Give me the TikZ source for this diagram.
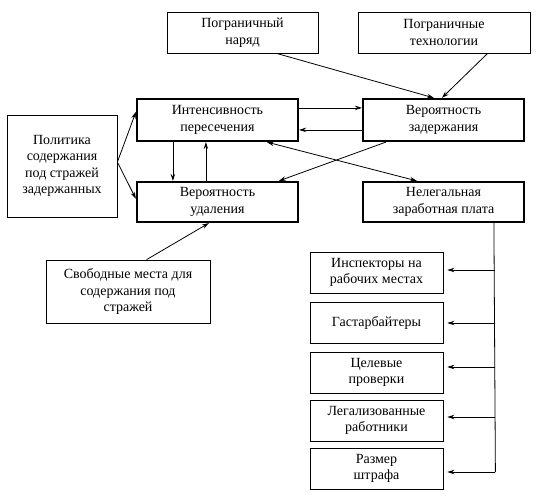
\documentclass[tikz,border=0pt]{standalone}
\usepackage{fontspec}
\setmainfont{Liberation Serif}
\usetikzlibrary{arrows.meta}
\begin{document}
\begin{tikzpicture}[x=1pt,y=-1pt,
  box/.style={draw, line width=0.8pt, align=center, inner sep=0pt, font=\fontsize{14}{16.5}\selectfont},
  tbox/.style={box, line width=2.2pt},
  arr/.style={-{Stealth[length=7pt,width=4.5pt]}, line width=0.8pt},
  darr/.style={{Stealth[length=7pt,width=4.5pt]}-{Stealth[length=7pt,width=4.5pt]}, line width=0.8pt},
  ln/.style={line width=0.8pt}]
\useasboundingbox (0,0) rectangle (536,499);
\node[box, minimum width=151, minimum height=41] (nar) at (242.5,32.5) {Пограничный\\наряд};
\node[box, minimum width=172, minimum height=41] (tech) at (444,32.5) {Пограничные\\технологии};
\node[tbox, minimum width=161, minimum height=42] (int) at (217.5,120) {Интенсивность\\пересечения};
\node[tbox, minimum width=161, minimum height=42] (zad) at (443.5,120) {Вероятность\\задержания};
\node[tbox, minimum width=161, minimum height=40] (ud) at (217.5,202) {Вероятность\\удаления};
\node[tbox, minimum width=161, minimum height=40] (nel) at (443.5,202) {Нелегальная\\заработная плата};
\node[box, minimum width=110, minimum height=102] (pol) at (62,166) {Политика\\содержания\\под стражей\\задержанных};
\node[box, minimum width=164, minimum height=63] (svob) at (128,291.5) {Свободные места для\\содержания под\\стражей};
\node[box, minimum width=133, minimum height=41] (r1) at (376.5,272.5) {Инспекторы на\\рабочих местах};
\node[box, minimum width=133, minimum height=41] (r2) at (376.5,322.5) {Гастарбайтеры};
\node[box, minimum width=133, minimum height=41] (r3) at (376.5,372.5) {Целевые\\проверки};
\node[box, minimum width=133, minimum height=41] (r4) at (376.5,420.5) {Легализованные\\работники};
\node[box, minimum width=133, minimum height=41] (r5) at (376.5,468.5) {Размер\\штрафа};
% arrows
\draw[arr] ([xshift=110pt]nar.south west) -- ([xshift=72pt]zad.north west);
\draw[arr] ([xshift=130pt]tech.south west) -- ([xshift=80pt]zad.north west);
\draw[arr] ([yshift=-10pt]int.north east) -- ([yshift=-10pt]zad.north west);
\draw[arr] ([yshift=-32pt]zad.north west) -- ([yshift=-32pt]int.north east);
\draw[arr] ([xshift=37pt]int.south west) -- ([xshift=37pt]ud.north west);
\draw[arr] ([xshift=70pt]ud.north west) -- ([xshift=70pt]int.south west);
\draw[arr] ([xshift=24pt]zad.south west) -- ([xshift=143pt]ud.north west);
\draw[darr] ([xshift=131pt]int.south west) -- ([xshift=55pt]nel.north west);
\draw[arr] ([yshift=4pt]pol.east) -- ([yshift=-14pt]int.north west);
\draw[arr] ([yshift=4pt]pol.east) -- ([yshift=-18pt]ud.north west);
\draw[arr] ([xshift=101pt]svob.north west) -- ([xshift=73pt]ud.south west);
\draw[ln] ([xshift=132pt]nel.south west) -- ([xshift=52pt,yshift=-3.5pt]r5.east);
\draw[arr] ([xshift=52pt,yshift=2.5pt]r1.east) -- ([xshift=4pt,yshift=2.5pt]r1.east);
\draw[arr] ([xshift=52pt,yshift=-0.5pt]r2.east) -- ([xshift=4pt,yshift=-0.5pt]r2.east);
\draw[arr] ([xshift=52pt,yshift=5.5pt]r3.east) -- ([xshift=4pt,yshift=5.5pt]r3.east);
\draw[arr] ([xshift=52pt,yshift=3.5pt]r4.east) -- ([xshift=4pt,yshift=3.5pt]r4.east);
\draw[arr] ([xshift=52pt,yshift=-3.5pt]r5.east) -- ([xshift=4pt,yshift=-3.5pt]r5.east);
\end{tikzpicture}
\end{document}
